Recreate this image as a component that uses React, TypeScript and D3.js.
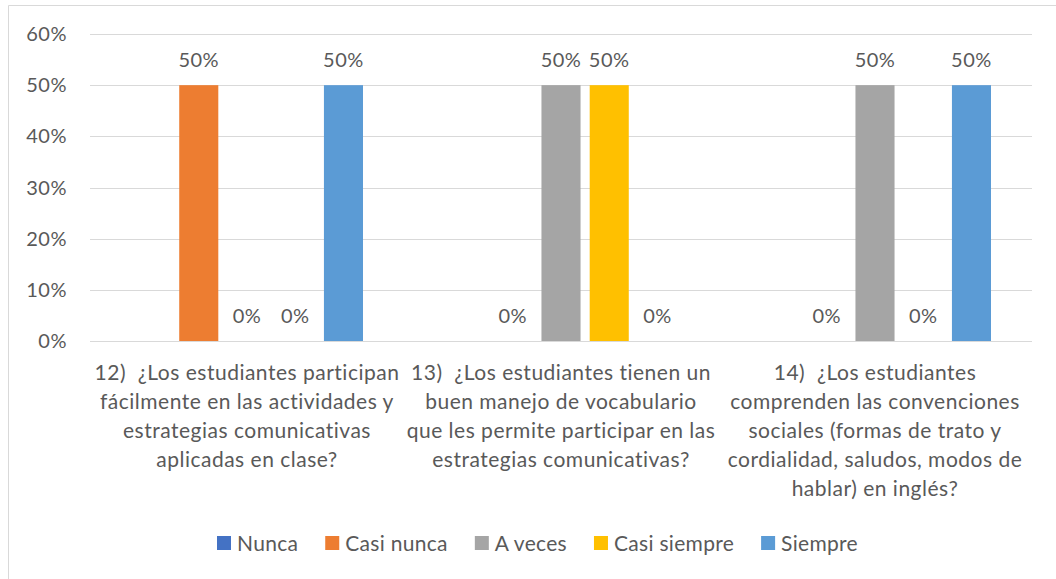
import React, { useEffect, useRef } from "react";
import * as d3 from "d3";

const categories: string[][] = [
  ["12)  ¿Los estudiantes participan", "fácilmente en las actividades y", "estrategias comunicativas", "aplicadas en clase?"],
  ["13)  ¿Los estudiantes tienen un", "buen manejo de vocabulario", "que les permite participar en las", "estrategias comunicativas?"],
  ["14)  ¿Los estudiantes", "comprenden las convenciones", "sociales (formas de trato y", "cordialidad, saludos, modos de", "hablar) en inglés?"],
];
const seriesNames = ["Nunca", "Casi nunca", "A veces", "Casi siempre", "Siempre"];
const seriesColors = ["#4472C4", "#ED7D31", "#A5A5A5", "#FFC000", "#5B9BD5"];
const nunca: (number | null)[] = [null, null, null];
const casiNunca: (number | null)[] = [0.5, 0, 0];
const aVeces: (number | null)[] = [0, 0.5, 0.5];
const casiSiempre: (number | null)[] = [0, 0.5, 0];
const siempre: (number | null)[] = [0.5, 0, 0.5];
const yTicks = [0, 0.1, 0.2, 0.3, 0.4, 0.5, 0.6];

const W = 1056;
const H = 579;
const FONT = "Lato, 'Open Sans', sans-serif";
const TEXT = "#595959";

export default function App() {
  const ref = useRef<SVGSVGElement>(null);
  useEffect(() => {
    const svg = d3.select(ref.current);
    svg.selectAll("*").remove();
    const values = [nunca, casiNunca, aVeces, casiSiempre, siempre];
    const left = 90, right = 1032, top = 34, bottom = 341;

    svg.append("rect").attr("x", 0).attr("y", 0).attr("width", W).attr("height", H).attr("fill", "#fff");
    svg.append("path").attr("d", `M8.5,${H} V5.5 H${W}`).attr("fill", "none").attr("stroke", "#D9D9D9").attr("stroke-width", 1);

    const y = d3.scaleLinear().domain([0, 0.6]).range([bottom, top]);
    const x0 = d3.scaleBand<number>().domain(d3.range(categories.length)).range([left, right]).padding(0);
    const x1 = d3.scaleBand<number>().domain(d3.range(seriesNames.length)).range([0, x0.bandwidth()]).paddingInner(0.19).paddingOuter(0.85);

    const fmt = d3.format(".0%");
    const g = svg.append("g");
    yTicks.forEach((t) => {
      g.append("line").attr("x1", left).attr("x2", right).attr("y1", Math.round(y(t)) + 0.5).attr("y2", Math.round(y(t)) + 0.5)
        .attr("stroke", "#D9D9D9").attr("stroke-width", 1);
      g.append("text").attr("x", 67).attr("y", y(t)).attr("dy", "0.35em").attr("text-anchor", "end")
        .attr("font-family", FONT).attr("font-size", 20).attr("letter-spacing", 0.5).attr("fill", TEXT).text(fmt(t));
    });

    values.forEach((vals, si) => {
      vals.forEach((v, ci) => {
        if (v === null) return;
        const bx = (x0(ci) as number) + (x1(si) as number);
        if (v > 0) {
          svg.append("rect").attr("x", bx).attr("y", y(v)).attr("width", x1.bandwidth()).attr("height", y(0) - y(v)).attr("fill", seriesColors[si]);
        }
        svg.append("text").attr("x", bx + x1.bandwidth() / 2).attr("y", y(v) - 18).attr("text-anchor", "middle")
          .attr("font-family", FONT).attr("font-size", 20).attr("letter-spacing", 0.5).attr("fill", TEXT).text(fmt(v));
      });
    });

    categories.forEach((lines, ci) => {
      const cx = (x0(ci) as number) + x0.bandwidth() / 2;
      const t = svg.append("text").attr("text-anchor", "middle").attr("font-family", FONT).attr("font-size", 21)
        .attr("letter-spacing", 0.5).attr("fill", TEXT).attr("style", "white-space: pre");
      lines.forEach((ln, i) => {
        t.append("tspan").attr("x", cx).attr("y", 380 + i * 29).text(ln);
      });
    });

    let lx = 217;
    seriesNames.forEach((name, si) => {
      svg.append("rect").attr("x", lx).attr("y", 536).attr("width", 14).attr("height", 14).attr("fill", seriesColors[si]);
      const tx = svg.append("text").attr("x", lx + 20).attr("y", 551).attr("font-family", FONT).attr("font-size", 21)
        .attr("letter-spacing", 0.3).attr("fill", TEXT).text(name);
      const w = (tx.node() as SVGTextElement).getComputedTextLength();
      lx += 20 + w + 27;
    });
  }, []);
  return <svg ref={ref} width={W} height={H} style={{ position: "absolute", left: 0, top: 0 }} />;
}
